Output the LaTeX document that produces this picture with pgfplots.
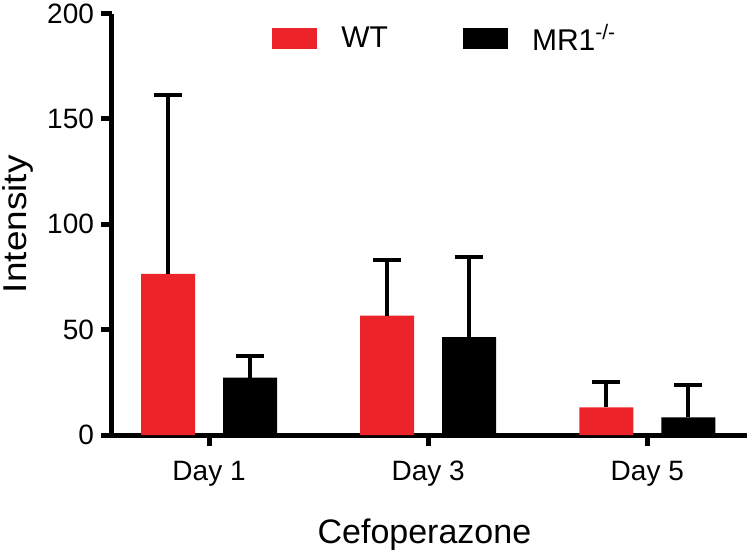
\documentclass[border=0pt]{standalone}
\usepackage{fontspec}
\setmainfont{Liberation Sans}
\usepackage{pgfplots}
\pgfplotsset{compat=1.18}
\definecolor{wtred}{HTML}{EC2328}

\begin{document}
\begin{tikzpicture}
\begin{axis}[
  name=ax,
  scale only axis,
  width=317.5pt,
  height=210.75pt,
  xmin=0.557, xmax=3.455,
  ymin=0, ymax=200,
  ytick={0,50,100,150,200},
  xtick={1,2,3},
  xticklabels={Day 1,Day 3,Day 5},
  axis lines=left,
  axis line style={-, line width=2.5pt},
  tick style={line width=2.5pt, black},
  major tick length=5.5pt,
  tick align=outside,
  /pgf/number format/assume math mode=true,
  tick label style={font=\fontsize{14}{16}\selectfont},
  yticklabel style={xshift=0pt},
  xticklabel style={yshift=-4pt},
  ybar=14pt,
  bar width=27pt,
  every axis y label/.style={at={(axis description cs:0,0.5)}, xshift=-42.7pt, rotate=90, xscale=1.12, anchor=base},
  every axis x label/.style={at={(axis description cs:0.492,0)}, yshift=-54pt, anchor=base},
  ylabel={Intensity},
  xlabel={Cefoperazone},
  label style={font=\fontsize{16.5}{18}\selectfont},
  xlabel style={font=\fontsize{17}{19}\selectfont},
  legend columns=2,
  legend style={at={(axis description cs:0.2425,0.94)}, anchor=west, draw=none, fill=none,
    font=\fontsize{15}{17}\selectfont,
    /tikz/every odd column/.append style={column sep=10pt},
    /tikz/every even column/.append style={column sep=35.5pt}},
  legend image code/.code={\fill[#1] (0pt,-5.3pt) rectangle (22.5pt,5.3pt);},
  error bars/y dir=plus,
  error bars/y explicit,
  error bars/error bar style={line width=2pt, black},
  error bars/error mark options={rotate=90, mark size=7pt, line width=2pt, black},
  clip=false,
]
\addplot[fill=wtred, draw=none] coordinates {
  (1,76.4) +- (0,84.9)
  (2,56.6) +- (0,26.4)
  (3,13.1) +- (0,11.9)
};
\addplot[fill=black, draw=none] coordinates {
  (1,27.2) +- (0,10.3)
  (2,46.4) +- (0,37.9)
  (3,8.4) +- (0,15.3)
};
\legend{WT,MR1\textsuperscript{-/-}}
\end{axis}
\pgfresetboundingbox
\path[use as bounding box] ([xshift=-56pt,yshift=-59pt]ax.south west) rectangle ([xshift=1.5pt,yshift=6.75pt]ax.north east);
\end{tikzpicture}
\end{document}
